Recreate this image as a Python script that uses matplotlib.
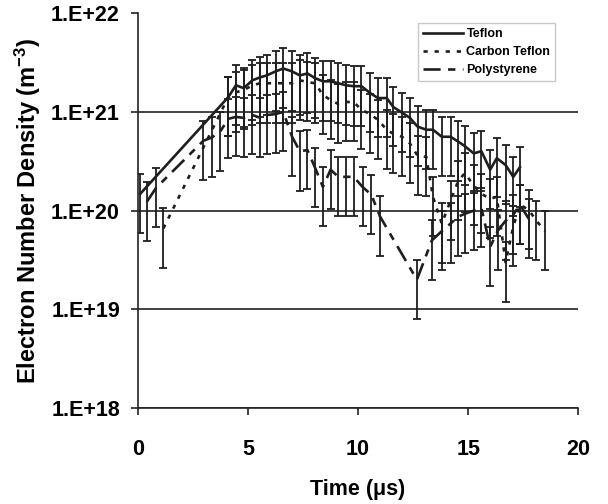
import numpy as np
import matplotlib
matplotlib.use("Agg")
import matplotlib.pyplot as plt

plt.rcParams['font.family'] = ['Liberation Sans', 'DejaVu Sans']
plt.rcParams['font.weight'] = 'bold'
plt.rcParams['mathtext.fontset'] = 'custom'
plt.rcParams['mathtext.bf'] = 'Liberation Sans:bold'
plt.rcParams['mathtext.rm'] = 'Liberation Sans:bold'
plt.rcParams['mathtext.default'] = 'bf'

# time in microseconds, electron number density in m^-3
teflon_t = [0.1, 4.1, 4.45, 4.8, 5.2, 5.55, 5.85, 6.25, 6.6, 7.0, 7.35, 7.7, 8.05,
            8.4, 8.75, 9.1, 9.45, 9.8, 10.15, 10.55, 10.9, 11.3, 11.6, 12.0, 12.35,
            12.7, 13.1, 13.4, 13.8, 14.2, 14.55, 14.85, 15.25, 15.6, 16.0, 16.3,
            16.7, 17.05, 17.35]
teflon_n = [1.48e20, 1.41e21, 1.86e21, 1.74e21, 2.09e21, 2.24e21, 2.34e21, 2.57e21,
            2.75e21, 2.57e21, 2.34e21, 2.45e21, 2.19e21, 2.04e21, 2.04e21, 1.95e21,
            1.86e21, 1.82e21, 1.82e21, 1.55e21, 1.38e21, 1.38e21, 1.12e21, 9.8e20,
            8.7e20, 7.1e20, 6.6e20, 6.6e20, 5.6e20, 5.6e20, 5.0e20, 4.5e20, 3.8e20,
            4.0e20, 2.6e20, 3.4e20, 2.9e20, 2.2e20, 2.75e20]

carbon_t = [1.15, 4.1, 4.45, 4.8, 5.2, 5.55, 5.85, 6.25, 6.6, 7.0, 7.35, 7.7, 8.05,
            8.4, 8.75, 9.1, 9.45, 9.8, 10.15, 10.55, 10.9, 11.3, 11.6, 12.0, 12.35,
            12.7, 13.1, 13.4, 13.8, 14.2, 14.55, 14.85, 15.25, 15.6, 16.0, 16.3,
            16.7, 17.05, 17.35, 17.75, 18.1, 18.5]
carbon_n = [6.6e19, 1.41e21, 1.58e21, 1.66e21, 1.86e21, 1.95e21, 1.95e21, 1.95e21,
            1.95e21, 1.95e21, 2.09e21, 2.0e21, 1.95e21, 1.48e21, 1.32e21, 1.20e21,
            1.26e21, 1.26e21, 1.05e21, 9.5e20, 8.3e20, 6.6e20, 6.0e20, 5.6e20,
            4.8e20, 3.6e20, 3.5e20, 1.38e20, 7.4e19, 1.26e20, 2.0e20, 2.4e20,
            1.8e20, 1.48e20, 1.32e20, 1.38e20, 3.0e19, 6.9e19, 1.15e20, 1.02e20,
            7.9e19, 6.2e19]

poly_t = [0.4, 0.82, 2.97, 3.35, 3.73, 4.1, 4.45, 4.8, 5.2, 5.55, 5.85, 6.25, 6.6,
          7.0, 7.35, 7.7, 8.05, 8.4, 8.75, 9.1, 9.45, 9.8, 10.2, 10.6, 11.0, 12.67,
          13.35, 13.8, 14.2, 14.55, 14.85, 15.25, 15.6, 16.0, 16.35, 16.7, 17.05,
          17.35, 17.75]
poly_n = [1.23e20, 1.70e20, 5.1e20, 5.5e20, 6.3e20, 8.5e20, 8.9e20, 8.7e20, 9.3e20,
          8.7e20, 9.3e20, 9.5e20, 1.0e21, 5.6e20, 4.0e20, 4.1e20, 2.7e20, 1.74e20,
          2.6e20, 2.2e20, 2.2e20, 2.2e20, 1.74e20, 1.45e20, 8.7e19, 2.0e19, 5.0e19,
          6.2e19, 7.4e19, 8.7e19, 9.3e19, 1.0e20, 1.07e20, 4.3e19, 6.3e19, 7.9e19,
          9.1e19, 1.15e20, 8.3e19]

err_frac = 0.6   # percentage error bars (60 %)

yticks = [1e18, 1e19, 1e20, 1e21, 1e22]
ytick_labels = ['1.E+18', '1.E+19', '1.E+20', '1.E+21', '1.E+22']
xticks = [0, 5, 10, 15, 20]

fig = plt.figure(figsize=(6.08, 5.04), dpi=100)
ax = fig.add_axes([0.227, 0.190, 0.724, 0.784])

series = [
    (teflon_t, teflon_n, 'Teflon', '-'),
    (carbon_t, carbon_n, 'Carbon Teflon', (0, (1.6, 2.6))),
    (poly_t, poly_n, 'Polystyrene', (0, (6.5, 2.8, 2.8, 2.8))),
]
for t, n, name, ls in series:
    n = np.array(n)
    ax.errorbar(t, n, yerr=[n * err_frac, n * err_frac], fmt='none', ecolor='#1e1e1e',
                elinewidth=1.3, capsize=3, capthick=1.3, zorder=3)
    ax.plot(t, n, color='#1e1e1e', linestyle=ls, linewidth=1.9, label=name, zorder=4)

ax.set_yscale('log')
ax.set_ylim(1e18, 1e22)
ax.set_xlim(0, 20)
ax.set_yticks(yticks)
ax.set_yticklabels(ytick_labels)
ax.yaxis.set_minor_locator(plt.NullLocator())
ax.set_xticks(xticks)

ax.yaxis.grid(True, color='#333333', linewidth=1.3)
ax.get_ygridlines()[-1].set_visible(False)
ax.set_axisbelow(True)

for s in ['top', 'right']:
    ax.spines[s].set_visible(False)
for s in ['left', 'bottom']:
    ax.spines[s].set_color('#222222')
    ax.spines[s].set_linewidth(1.2)

ax.tick_params(axis='both', direction='out', length=5, width=1.2, color='#222222',
               labelsize=15.5)
ax.tick_params(axis='y', pad=8)
ax.tick_params(axis='x', pad=17)
for lab in ax.get_xticklabels() + ax.get_yticklabels():
    lab.set_fontweight('bold')

ax.set_xlabel('Time (\u03bcs)', fontsize=15.5, fontweight='bold', labelpad=14)
ax.set_ylabel('Electron Number Density (m$^{-3}$)', fontsize=17, fontweight='bold',
              labelpad=6)

leg = ax.legend(loc='upper right', bbox_to_anchor=(0.948, 0.975), borderaxespad=0,
                fontsize=9, frameon=True, fancybox=False, handlelength=3.2,
                labelspacing=0.5, borderpad=0.4, handletextpad=0.3)
leg.get_frame().set_edgecolor('#bbbbbb')
leg.get_frame().set_linewidth(1.0)
for txt in leg.get_texts():
    txt.set_fontweight('bold')

fig.savefig('out.png', dpi=100)
